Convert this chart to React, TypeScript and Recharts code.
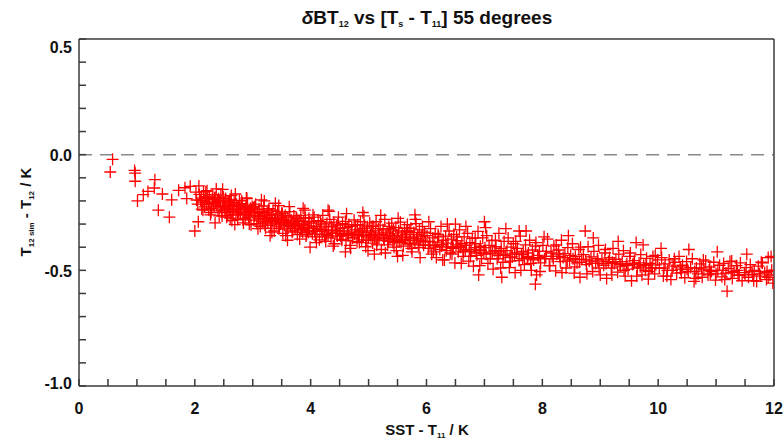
import { ScatterChart, Scatter, XAxis, YAxis, ReferenceLine } from 'recharts';

// x ticks every 0.5 (labels only on even integers), y ticks every 0.1
const xTicks = [0, 0.5, 1, 1.5, 2, 2.5, 3, 3.5, 4, 4.5, 5, 5.5, 6, 6.5, 7, 7.5, 8, 8.5, 9, 9.5, 10, 10.5, 11, 11.5, 12];
const xLabels = [0, 2, 4, 6, 8, 10, 12];
const yTicks = [-1.0, -0.9, -0.8, -0.7, -0.6, -0.5, -0.4, -0.3, -0.2, -0.1, 0, 0.1, 0.2, 0.3, 0.4, 0.5];
const yLabels = [-1.0, -0.5, 0, 0.5];

// scatter points [SST - T11, T12sim - T12]
const earlyPoints = [
  [0.58, -0.02], [0.54, -0.075], [0.96, -0.068], [0.97, -0.08], [0.97, -0.115], [1.01, -0.2],
  [1.11, -0.173], [1.19, -0.159], [1.31, -0.108], [1.3, -0.144], [1.44, -0.17], [1.6, -0.195],
  [1.37, -0.24], [1.56, -0.27], [1.72, -0.154], [1.92, -0.137], [1.86, -0.19], [1.83, -0.143],
  [2.06, -0.29], [2.0, -0.33], [2.35, -0.295], [2.61, -0.274],
];

const band2to3 = [
  [2.02, -0.162], [2.05, -0.214], [2.07, -0.135], [2.1, -0.198], [2.11, -0.188], [2.14, -0.24],
  [2.15, -0.161], [2.18, -0.184], [2.2, -0.215], [2.21, -0.156], [2.24, -0.238], [2.25, -0.179],
  [2.27, -0.26], [2.3, -0.193], [2.31, -0.173], [2.33, -0.225], [2.36, -0.207], [2.37, -0.148],
  [2.4, -0.24], [2.41, -0.191], [2.44, -0.223], [2.45, -0.174], [2.47, -0.265], [2.5, -0.208],
  [2.52, -0.239], [2.53, -0.19], [2.56, -0.222], [2.57, -0.263], [2.59, -0.204], [2.62, -0.237],
  [2.63, -0.177], [2.66, -0.26], [2.67, -0.22], [2.69, -0.302], [2.72, -0.214], [2.73, -0.235],
  [2.76, -0.257], [2.77, -0.198], [2.79, -0.249], [2.82, -0.212], [2.83, -0.282], [2.86, -0.235],
  [2.87, -0.275], [2.89, -0.187], [2.92, -0.249], [2.93, -0.27], [2.96, -0.232], [2.97, -0.303],
  [2.99, -0.224], [2.03, -0.196], [2.08, -0.172], [2.13, -0.205], [2.17, -0.226], [2.22, -0.19],
  [2.26, -0.212], [2.29, -0.232], [2.34, -0.186], [2.38, -0.218], [2.43, -0.2], [2.46, -0.248],
  [2.49, -0.183], [2.54, -0.25], [2.58, -0.216], [2.61, -0.195], [2.65, -0.244], [2.68, -0.207],
  [2.71, -0.26], [2.75, -0.223], [2.78, -0.24], [2.81, -0.2], [2.85, -0.256], [2.88, -0.228],
  [2.91, -0.218], [2.95, -0.265], [2.98, -0.245],
];

const band3to4 = [
  [3.01, -0.23], [3.02, -0.283], [3.04, -0.262], [3.05, -0.214], [3.07, -0.298], [3.08, -0.251],
  [3.1, -0.275], [3.11, -0.236], [3.13, -0.31], [3.14, -0.268], [3.16, -0.245], [3.17, -0.29],
  [3.19, -0.222], [3.2, -0.262], [3.22, -0.318], [3.23, -0.281], [3.25, -0.25], [3.26, -0.296],
  [3.28, -0.233], [3.29, -0.272], [3.31, -0.305], [3.32, -0.258], [3.34, -0.285], [3.35, -0.24],
  [3.37, -0.33], [3.38, -0.277], [3.4, -0.261], [3.41, -0.299], [3.43, -0.245], [3.44, -0.286],
  [3.46, -0.312], [3.47, -0.27], [3.49, -0.293], [3.5, -0.252], [3.52, -0.34], [3.53, -0.28],
  [3.55, -0.305], [3.56, -0.262], [3.58, -0.288], [3.59, -0.321], [3.61, -0.27], [3.62, -0.298],
  [3.64, -0.246], [3.65, -0.31], [3.67, -0.283], [3.68, -0.335], [3.7, -0.292], [3.71, -0.265],
  [3.73, -0.318], [3.74, -0.3], [3.76, -0.276], [3.77, -0.345], [3.79, -0.306], [3.8, -0.285],
  [3.82, -0.324], [3.83, -0.262], [3.85, -0.301], [3.86, -0.336], [3.88, -0.29], [3.89, -0.315],
  [3.91, -0.272], [3.92, -0.352], [3.94, -0.308], [3.95, -0.33], [3.97, -0.29], [3.98, -0.318],
  [3.2, -0.2], [3.45, -0.22], [3.9, -0.24], [3.99, -0.4], [3.6, -0.37], [3.3, -0.35],
];

const band4to6 = [
  [4.01, -0.296], [4.03, -0.342], [4.05, -0.318], [4.06, -0.27], [4.08, -0.355], [4.1, -0.31],
  [4.11, -0.332], [4.13, -0.285], [4.15, -0.368], [4.16, -0.322], [4.18, -0.3], [4.2, -0.345],
  [4.21, -0.262], [4.23, -0.33], [4.25, -0.312], [4.26, -0.375], [4.28, -0.296], [4.3, -0.35],
  [4.31, -0.325], [4.33, -0.28], [4.35, -0.36], [4.36, -0.31], [4.38, -0.338], [4.4, -0.292],
  [4.41, -0.385], [4.43, -0.326], [4.45, -0.305], [4.46, -0.352], [4.48, -0.27], [4.5, -0.34],
  [4.51, -0.318], [4.53, -0.366], [4.55, -0.298], [4.56, -0.345], [4.58, -0.33], [4.6, -0.288],
  [4.61, -0.372], [4.63, -0.315], [4.65, -0.35], [4.66, -0.302], [4.68, -0.392], [4.7, -0.335],
  [4.71, -0.31], [4.73, -0.358], [4.75, -0.282], [4.76, -0.344], [4.78, -0.325], [4.8, -0.376],
  [4.81, -0.303], [4.83, -0.35], [4.85, -0.33], [4.86, -0.29], [4.88, -0.368], [4.9, -0.32],
  [4.91, -0.352], [4.93, -0.305], [4.95, -0.398], [4.96, -0.338], [4.98, -0.312],
  [5.0, -0.36], [5.02, -0.295], [5.03, -0.345], [5.05, -0.33], [5.07, -0.382], [5.08, -0.31],
  [5.1, -0.355], [5.12, -0.338], [5.13, -0.29], [5.15, -0.372], [5.17, -0.32], [5.18, -0.36],
  [5.2, -0.305], [5.22, -0.41], [5.23, -0.345], [5.25, -0.325], [5.27, -0.37], [5.28, -0.28],
  [5.3, -0.35], [5.32, -0.335], [5.33, -0.39], [5.35, -0.31], [5.37, -0.362], [5.38, -0.342],
  [5.4, -0.296], [5.42, -0.38], [5.43, -0.325], [5.45, -0.365], [5.47, -0.315], [5.48, -0.415],
  [5.5, -0.35], [5.52, -0.33], [5.53, -0.375], [5.55, -0.292], [5.57, -0.355], [5.58, -0.338],
  [5.6, -0.395], [5.62, -0.318], [5.63, -0.366], [5.65, -0.345], [5.67, -0.302], [5.68, -0.386],
  [5.7, -0.33], [5.72, -0.372], [5.73, -0.318], [5.75, -0.42], [5.77, -0.356], [5.78, -0.336],
  [5.8, -0.382], [5.82, -0.298], [5.83, -0.362], [5.85, -0.345], [5.87, -0.402], [5.88, -0.325],
  [5.9, -0.37], [5.92, -0.352], [5.93, -0.31], [5.95, -0.392], [5.97, -0.338], [5.98, -0.378],
  [4.3, -0.24], [4.9, -0.25], [5.5, -0.44], [5.1, -0.43], [4.6, -0.42], [5.8, -0.26],
];

const band6to8 = [
  [6.01, -0.35], [6.03, -0.405], [6.05, -0.375], [6.07, -0.32], [6.09, -0.43], [6.11, -0.36],
  [6.13, -0.392], [6.15, -0.34], [6.17, -0.445], [6.19, -0.378], [6.21, -0.355], [6.23, -0.41],
  [6.25, -0.31], [6.27, -0.388], [6.29, -0.37], [6.31, -0.455], [6.33, -0.352], [6.35, -0.4],
  [6.37, -0.382], [6.39, -0.33], [6.41, -0.425], [6.43, -0.365], [6.45, -0.398], [6.47, -0.345],
  [6.49, -0.468], [6.51, -0.39], [6.53, -0.372], [6.55, -0.42], [6.57, -0.325], [6.59, -0.4],
  [6.61, -0.385], [6.63, -0.44], [6.65, -0.355], [6.67, -0.412], [6.69, -0.392], [6.71, -0.34],
  [6.73, -0.46], [6.75, -0.38], [6.77, -0.418], [6.79, -0.362], [6.81, -0.482], [6.83, -0.402],
  [6.85, -0.385], [6.87, -0.435], [6.89, -0.332], [6.91, -0.412], [6.93, -0.396], [6.95, -0.45],
  [6.97, -0.36], [6.99, -0.425],
  [7.01, -0.402], [7.04, -0.35], [7.06, -0.47], [7.08, -0.392], [7.11, -0.428], [7.13, -0.372],
  [7.15, -0.495], [7.18, -0.415], [7.2, -0.398], [7.22, -0.45], [7.25, -0.34], [7.27, -0.42],
  [7.29, -0.405], [7.32, -0.465], [7.34, -0.375], [7.36, -0.435], [7.39, -0.415], [7.41, -0.36],
  [7.43, -0.488], [7.46, -0.4], [7.48, -0.442], [7.5, -0.385], [7.53, -0.51], [7.55, -0.425],
  [7.57, -0.405], [7.6, -0.458], [7.62, -0.352], [7.64, -0.432], [7.67, -0.418], [7.69, -0.475],
  [7.71, -0.39], [7.74, -0.445], [7.76, -0.425], [7.78, -0.37], [7.81, -0.5], [7.83, -0.412],
  [7.85, -0.455], [7.88, -0.395], [7.9, -0.52], [7.92, -0.435], [7.95, -0.418], [7.97, -0.468],
  [6.5, -0.3], [7.0, -0.29], [7.88, -0.56], [6.9, -0.52], [7.6, -0.33], [7.3, -0.53],
];

const band8to10 = [
  [8.01, -0.392], [8.04, -0.45], [8.07, -0.418], [8.09, -0.365], [8.12, -0.48], [8.15, -0.425],
  [8.17, -0.44], [8.2, -0.395], [8.23, -0.502], [8.25, -0.43], [8.28, -0.412], [8.31, -0.462],
  [8.33, -0.37], [8.36, -0.445], [8.39, -0.428], [8.41, -0.49], [8.44, -0.402], [8.47, -0.455],
  [8.49, -0.435], [8.52, -0.385], [8.55, -0.512], [8.57, -0.44], [8.6, -0.468], [8.63, -0.41],
  [8.65, -0.53], [8.68, -0.452], [8.71, -0.432], [8.74, -0.33], [8.76, -0.475], [8.79, -0.398],
  [8.81, -0.46], [8.84, -0.442], [8.87, -0.505], [8.89, -0.418], [8.92, -0.47], [8.95, -0.45],
  [8.97, -0.392], [9.0, -0.52],
  [9.03, -0.455], [9.06, -0.478], [9.08, -0.425], [9.11, -0.535], [9.14, -0.462], [9.16, -0.445],
  [9.19, -0.49], [9.22, -0.405], [9.24, -0.47], [9.27, -0.452], [9.3, -0.508], [9.32, -0.43],
  [9.35, -0.482], [9.38, -0.462], [9.4, -0.415], [9.43, -0.525], [9.46, -0.47], [9.48, -0.495],
  [9.51, -0.44], [9.54, -0.545], [9.56, -0.475], [9.59, -0.458], [9.62, -0.38], [9.64, -0.49],
  [9.67, -0.468], [9.7, -0.432], [9.72, -0.52], [9.75, -0.478], [9.78, -0.5], [9.8, -0.448],
  [9.83, -0.538], [9.86, -0.47], [9.88, -0.488], [9.91, -0.44], [9.94, -0.515], [9.96, -0.476],
  [9.99, -0.455],
];

const band10to12 = [
  [10.02, -0.49], [10.06, -0.445], [10.09, -0.525], [10.12, -0.472], [10.16, -0.5], [10.19, -0.455],
  [10.22, -0.54], [10.26, -0.482], [10.29, -0.465], [10.32, -0.512], [10.36, -0.44], [10.39, -0.495],
  [10.42, -0.478], [10.46, -0.532], [10.49, -0.462], [10.52, -0.505], [10.56, -0.488], [10.59, -0.45],
  [10.62, -0.548], [10.66, -0.49], [10.69, -0.515], [10.72, -0.472], [10.76, -0.53], [10.79, -0.498],
  [10.82, -0.46], [10.86, -0.52], [10.89, -0.485], [10.92, -0.505], [10.96, -0.465], [10.99, -0.542],
  [11.03, -0.5], [11.06, -0.478], [11.1, -0.528], [11.13, -0.47], [11.17, -0.512], [11.19, -0.59],
  [11.21, -0.492], [11.24, -0.462], [11.28, -0.535], [11.31, -0.505], [11.35, -0.48], [11.38, -0.522],
  [11.42, -0.468], [11.45, -0.545], [11.49, -0.51], [11.52, -0.488], [11.56, -0.53], [11.59, -0.475],
  [11.63, -0.518], [11.66, -0.5], [11.7, -0.548], [11.73, -0.482], [11.77, -0.525], [11.8, -0.468],
  [11.84, -0.51], [11.87, -0.54], [11.9, -0.445], [11.93, -0.52], [11.96, -0.5], [11.98, -0.555],
];

// ragged upper and lower fringe of the cloud
const bandEdges = [
  [2.12, -0.235], [2.19, -0.16], [2.28, -0.25], [2.35, -0.185], [2.42, -0.265], [2.48, -0.15],
  [2.55, -0.27], [2.6, -0.2], [2.64, -0.285], [2.7, -0.17], [2.74, -0.28], [2.8, -0.215],
  [2.84, -0.295], [2.9, -0.19], [2.94, -0.3], [3.03, -0.225], [3.09, -0.32], [3.15, -0.195],
  [3.21, -0.305], [3.27, -0.24], [3.33, -0.335], [3.39, -0.21], [3.45, -0.32], [3.51, -0.255],
  [3.57, -0.35], [3.63, -0.225], [3.69, -0.33], [3.75, -0.27], [3.81, -0.365], [3.87, -0.232],
  [3.93, -0.345], [3.97, -0.275],
  [4.04, -0.26], [4.1, -0.38], [4.17, -0.29], [4.24, -0.355], [4.32, -0.245], [4.39, -0.395],
  [4.47, -0.3], [4.54, -0.37], [4.62, -0.255], [4.69, -0.405], [4.77, -0.305], [4.84, -0.38],
  [4.92, -0.265], [4.99, -0.415], [5.06, -0.31], [5.14, -0.39], [5.21, -0.262], [5.29, -0.425],
  [5.36, -0.32], [5.44, -0.4], [5.51, -0.275], [5.59, -0.435], [5.66, -0.33], [5.74, -0.405],
  [5.81, -0.28], [5.89, -0.445], [5.96, -0.335],
  [6.04, -0.29], [6.12, -0.42], [6.2, -0.345], [6.28, -0.455], [6.36, -0.3], [6.44, -0.43],
  [6.52, -0.355], [6.6, -0.47], [6.68, -0.31], [6.76, -0.44], [6.84, -0.36], [6.92, -0.48],
  [7.02, -0.315], [7.1, -0.45], [7.19, -0.37], [7.28, -0.49], [7.37, -0.32], [7.45, -0.46],
  [7.54, -0.375], [7.63, -0.5], [7.72, -0.33], [7.8, -0.47], [7.89, -0.38], [7.96, -0.505],
  [8.03, -0.355], [8.13, -0.48], [8.24, -0.39], [8.34, -0.51], [8.45, -0.35], [8.56, -0.485],
  [8.66, -0.4], [8.77, -0.515], [8.88, -0.36], [8.98, -0.49], [9.09, -0.41], [9.2, -0.52],
  [9.31, -0.375], [9.41, -0.5], [9.52, -0.425], [9.63, -0.525], [9.74, -0.39], [9.84, -0.505],
  [9.95, -0.435],
  [10.05, -0.405], [10.15, -0.525], [10.28, -0.45], [10.4, -0.51], [10.53, -0.41], [10.65, -0.535],
  [10.78, -0.455], [10.9, -0.515], [11.02, -0.42], [11.15, -0.54], [11.27, -0.46], [11.4, -0.52],
  [11.53, -0.43], [11.65, -0.545], [11.78, -0.465], [11.9, -0.53], [11.95, -0.44],
];

// extra fill through the middle of the cloud
const bandCore = [
  [2.16, -0.2], [2.23, -0.205], [2.32, -0.21], [2.39, -0.2], [2.48, -0.225], [2.51, -0.23],
  [2.6, -0.235], [2.64, -0.215], [2.74, -0.25], [2.8, -0.23], [2.9, -0.26], [2.94, -0.24],
  [3.03, -0.265], [3.12, -0.255], [3.18, -0.278], [3.24, -0.265], [3.33, -0.29], [3.39, -0.28],
  [3.48, -0.3], [3.54, -0.29], [3.6, -0.305], [3.66, -0.295], [3.72, -0.31], [3.78, -0.3],
  [3.84, -0.32], [3.9, -0.305], [3.96, -0.335],
  [4.07, -0.33], [4.19, -0.325], [4.27, -0.345], [4.37, -0.34], [4.44, -0.33], [4.52, -0.35],
  [4.64, -0.34], [4.72, -0.36], [4.82, -0.345], [4.89, -0.335], [4.97, -0.37], [5.04, -0.35],
  [5.11, -0.365], [5.19, -0.345], [5.26, -0.36], [5.34, -0.375], [5.41, -0.355], [5.49, -0.37],
  [5.56, -0.38], [5.64, -0.36], [5.71, -0.385], [5.79, -0.37], [5.86, -0.39], [5.94, -0.375],
  [6.06, -0.39], [6.16, -0.4], [6.26, -0.395], [6.34, -0.415], [6.46, -0.405], [6.56, -0.4],
  [6.64, -0.42], [6.74, -0.41], [6.86, -0.425], [6.94, -0.415], [7.03, -0.43], [7.14, -0.42],
  [7.24, -0.435], [7.33, -0.43], [7.44, -0.445], [7.52, -0.43], [7.66, -0.45], [7.75, -0.44],
  [7.84, -0.45], [7.94, -0.445],
  [8.06, -0.44], [8.19, -0.45], [8.3, -0.44], [8.43, -0.46], [8.53, -0.45], [8.64, -0.465],
  [8.75, -0.455], [8.86, -0.47], [8.96, -0.46], [9.1, -0.47], [9.21, -0.465], [9.34, -0.475],
  [9.45, -0.48], [9.58, -0.47], [9.69, -0.485], [9.79, -0.475], [9.9, -0.49],
  [10.1, -0.49], [10.24, -0.5], [10.38, -0.485], [10.5, -0.495], [10.63, -0.505], [10.75, -0.49],
  [10.88, -0.5], [11.0, -0.515], [11.12, -0.5], [11.26, -0.51], [11.37, -0.5], [11.5, -0.52],
  [11.62, -0.505], [11.75, -0.515], [11.88, -0.505],
];

const font = '"Liberation Sans", Arial, Helvetica, sans-serif';
const axisColor = '#3a3a3a';

const scatterData = [
  ...earlyPoints, ...band2to3, ...band3to4, ...band4to6, ...band6to8, ...band8to10, ...band10to12,
  ...bandEdges, ...bandCore,
].map(([x, y]) => ({ x, y }));

function PlusMarker(props: any) {
  const { cx, cy } = props;
  if (cx == null || cy == null) return null;
  return (
    <path
      d={`M${cx - 6},${cy}H${cx + 6}M${cx},${cy - 6}V${cy + 6}`}
      stroke="#ff0000"
      strokeWidth={1.3}
      fill="none"
    />
  );
}

const fmtX = (v: number) => (xLabels.includes(v) ? String(v) : '');

// IDL keeps the end labels inside the axis range, so nudge them a little
function YTick(props: any) {
  const { x, y, payload } = props;
  const v = payload.value;
  if (!yLabels.some((l) => Math.abs(l - v) < 1e-9)) return null;
  const shift = v > 0.4 ? 8 : v < -0.9 ? -3 : 1;
  return (
    <text
      x={x}
      y={y + shift}
      dy="0.355em"
      textAnchor="end"
      fill="#111"
      fontSize={16}
      fontWeight="bold"
      fontFamily={font}
    >
      {v.toFixed(1)}
    </text>
  );
}

export default function App() {
  const tickStyle = { fill: '#111', fontSize: 16, fontWeight: 'bold', fontFamily: font };
  const line = { stroke: axisColor, strokeWidth: 1.5 };

  return (
    <div style={{ position: 'absolute', left: 0, top: 0, width: 783, height: 443, background: '#fff' }}>
      <ScatterChart width={783} height={443} margin={{ top: 39, right: 9, bottom: 27, left: 19 }}>
        <XAxis
          type="number"
          dataKey="x"
          domain={[0, 12]}
          ticks={xTicks}
          interval={0}
          tickFormatter={fmtX}
          tick={tickStyle}
          tickSize={-7}
          tickMargin={24}
          height={30}
          axisLine={line}
          tickLine={line}
          allowDataOverflow
        />
        <XAxis
          xAxisId="top"
          orientation="top"
          mirror
          type="number"
          domain={[0, 12]}
          ticks={xTicks}
          interval={0}
          tick={false}
          tickSize={7}
          axisLine={line}
          tickLine={line}
          allowDataOverflow
        />
        <YAxis
          type="number"
          dataKey="y"
          domain={[-1, 0.5]}
          ticks={yTicks}
          interval={0}
          tick={<YTick />}
          tickSize={-7}
          tickMargin={14}
          width={60}
          axisLine={line}
          tickLine={line}
          allowDataOverflow
        />
        <YAxis
          yAxisId="right"
          orientation="right"
          mirror
          type="number"
          domain={[-1, 0.5]}
          ticks={yTicks}
          interval={0}
          tick={false}
          tickSize={7}
          axisLine={line}
          tickLine={line}
          allowDataOverflow
        />
        <ReferenceLine y={0} stroke="#8a8a8a" strokeWidth={1.5} strokeDasharray="13 8" />
        <Scatter data={scatterData} shape={PlusMarker} isAnimationActive={false} />
      </ScatterChart>

      <svg
        width={783}
        height={443}
        style={{ position: 'absolute', left: 0, top: 0, pointerEvents: 'none' }}
        fontFamily={font}
        fill="#111"
      >
        <text x={427} y={24} textAnchor="middle" fontSize={19} fontWeight="bold">
          <tspan fontStyle="italic">δ</tspan>BT
          <tspan fontSize={9} dy={3}>12</tspan>
          <tspan dy={-3}> vs [T</tspan>
          <tspan fontSize={9} dy={3}>s</tspan>
          <tspan dy={-3}> - T</tspan>
          <tspan fontSize={9} dy={3}>11</tspan>
          <tspan dy={-3}>] 55 degrees</tspan>
        </text>
        <text x={427} y={435} textAnchor="middle" fontSize={15} fontWeight="bold">
          SST - T<tspan fontSize={8} dy={3}>11</tspan>
          <tspan dy={-3}> / K</tspan>
        </text>
        <text
          x={0}
          y={0}
          transform="translate(31,212) rotate(-90)"
          textAnchor="middle"
          fontSize={15}
          fontWeight="bold"
        >
          T<tspan fontSize={8} dy={3}>12 sim</tspan>
          <tspan dy={-3}> - T</tspan>
          <tspan fontSize={8} dy={3}>12</tspan>
          <tspan dy={-3}> / K</tspan>
        </text>
      </svg>
    </div>
  );
}
